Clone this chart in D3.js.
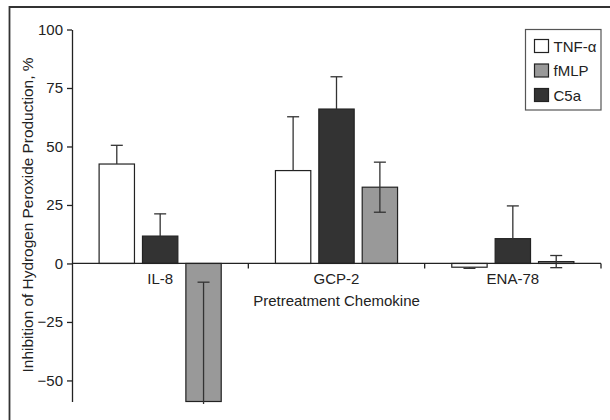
<!DOCTYPE html>
<html>
<head>
<meta charset="utf-8">
<script src="https://cdn.jsdelivr.net/npm/d3@7/dist/d3.min.js"></script>
<style>
  body { margin: 0; background: #fff; }
  svg { display: block; font-family: "Liberation Sans", Arial, sans-serif; }
</style>
</head>
<body>
<svg width="610" height="420"></svg>
<script>
// dati
var chemokines = ["IL-8", "GCP-2", "ENA-78"];
var seriesOrder = ["TNF-α", "C5a", "fMLP"];     // ordine delle barre
var legendOrder = ["TNF-α", "fMLP", "C5a"];     // ordine della legenda
var tnfValues = [42.5, 39.7, -1.6];
var tnfErrors = [8, 23, 0.5];
var c5aValues = [11.7, 66, 10.6];
var c5aErrors = [9.5, 13.8, 14];
var fmlpValues = [-59, 32.6, 0.8];
var fmlpErrors = [51, 10.7, 2.6];
var yTicks = [-50, -25, 0, 25, 50, 75, 100];

var colors = { "TNF-α": "#ffffff", "fMLP": "#999999", "C5a": "#333333" };
var twoSided = { "TNF-α": false, "fMLP": true, "C5a": false };

var data = [];
chemokines.forEach(function (c, i) {
    data.push({ group: c, serie: "TNF-α", value: tnfValues[i], err: tnfErrors[i] });
    data.push({ group: c, serie: "C5a", value: c5aValues[i], err: c5aErrors[i] });
    data.push({ group: c, serie: "fMLP", value: fmlpValues[i], err: fmlpErrors[i] });
});

var svg = d3.select("svg");

// cornice esterna
svg.append("path")
    .attr("d", "M9.5,420 V7 H610")
    .attr("fill", "none")
    .attr("stroke", "#333")
    .attr("stroke-width", 1.8);

var x0 = d3.scaleBand().domain(chemokines).range([72, 601]).padding(0);
var x1 = d3.scaleBand().domain(seriesOrder).range([0, x0.bandwidth()])
    .paddingInner(0.185).paddingOuter(0.625);
var y = d3.scaleLinear().domain([-59, 100]).range([401.5, 29.5]);

// clip per la barra d'errore che esce dal grafico (solo in verticale)
svg.append("clipPath").attr("id", "clip")
    .append("rect").attr("x", -1000).attr("y", 0).attr("width", 3000).attr("height", 404);

// asse y
var yAxis = svg.append("g")
    .attr("transform", "translate(72,0)")
    .call(d3.axisLeft(y).tickValues(yTicks).tickSize(5).tickPadding(4).tickSizeOuter(0));
yAxis.select(".domain").attr("stroke", "#222").attr("stroke-width", 1.3);
yAxis.selectAll(".tick line").attr("stroke", "#222").attr("stroke-width", 1.3);
yAxis.selectAll(".tick text").attr("font-size", 15).attr("fill", "#222")
    .attr("font-family", "Liberation Sans, Arial, sans-serif");

// barre
var bars = svg.append("g").selectAll("g")
    .data(data)
    .enter()
    .append("g")
    .attr("transform", function (d) { return "translate(" + (x0(d.group) + x1(d.serie)) + ",0)"; });

bars.append("rect")
    .attr("x", 0)
    .attr("y", function (d) { return y(Math.max(0, d.value)); })
    .attr("width", x1.bandwidth())
    .attr("height", function (d) { return Math.abs(y(d.value) - y(0)); })
    .attr("fill", function (d) { return colors[d.serie]; })
    .attr("stroke", "#222")
    .attr("stroke-width", 1.2);

// barre d'errore
var errs = bars.append("g").attr("clip-path", "url(#clip)");
var cx = x1.bandwidth() / 2;
errs.append("line")
    .attr("x1", cx).attr("x2", cx)
    .attr("y1", function (d) {
        if (twoSided[d.serie]) return y(d.value + d.err);
        return y(d.value);
    })
    .attr("y2", function (d) {
        if (twoSided[d.serie]) return y(d.value - d.err);
        return d.value >= 0 ? y(d.value + d.err) : y(d.value - d.err);
    })
    .attr("stroke", "#333")
    .attr("stroke-width", 1.3);

errs.each(function (d) {
    var ends = [];
    if (twoSided[d.serie]) {
        ends = [d.value + d.err, d.value - d.err];
    } else {
        ends = [d.value >= 0 ? d.value + d.err : d.value - d.err];
    }
    d3.select(this).selectAll(".cap")
        .data(ends)
        .enter()
        .append("line")
        .attr("class", "cap")
        .attr("x1", cx - 6).attr("x2", cx + 6)
        .attr("y1", function (v) { return y(v); })
        .attr("y2", function (v) { return y(v); })
        .attr("stroke", "#333")
        .attr("stroke-width", 1.3);
});

// asse x sullo zero
var xAxis = svg.append("g").attr("transform", "translate(0," + y(0) + ")");
xAxis.append("line")
    .attr("x1", 72).attr("x2", 601)
    .attr("stroke", "#222").attr("stroke-width", 1.3);
xAxis.selectAll(".tk")
    .data(chemokines.slice(1).concat(["end"]))
    .enter()
    .append("line")
    .attr("x1", function (d) { return d === "end" ? 601 : x0(d); })
    .attr("x2", function (d) { return d === "end" ? 601 : x0(d); })
    .attr("y1", 0).attr("y2", 5)
    .attr("stroke", "#222").attr("stroke-width", 1.3);
xAxis.selectAll(".lbl")
    .data(chemokines)
    .enter()
    .append("text")
    .attr("x", function (d) { return x0(d) + x0.bandwidth() / 2; })
    .attr("y", 20.5)
    .attr("text-anchor", "middle")
    .attr("font-size", 15)
    .attr("fill", "#222")
    .text(function (d) { return d; });

svg.append("text")
    .attr("x", (72 + 601) / 2)
    .attr("y", 306)
    .attr("text-anchor", "middle")
    .attr("font-size", 15)
    .attr("fill", "#222")
    .text("Pretreatment Chemokine");

svg.append("text")
    .attr("transform", "translate(33,215) rotate(-90)")
    .attr("text-anchor", "middle")
    .attr("font-size", 15.4)
    .attr("fill", "#222")
    .text("Inhibition of Hydrogen Peroxide Production, %");

// legenda
var legend = svg.append("g");
legend.append("rect")
    .attr("x", 525.5).attr("y", 29.5)
    .attr("width", 75.5).attr("height", 80.5)
    .attr("fill", "#fff")
    .attr("stroke", "#555").attr("stroke-width", 1.2);
var items = legend.selectAll(".item")
    .data(legendOrder)
    .enter()
    .append("g")
    .attr("transform", function (d, i) { return "translate(534.5," + (39.5 + i * 24.5) + ")"; });
items.append("rect")
    .attr("width", 14).attr("height", 13)
    .attr("fill", function (d) { return colors[d]; })
    .attr("stroke", "#222").attr("stroke-width", 1.2);
items.append("text")
    .attr("x", 19).attr("y", 12)
    .attr("font-size", 15)
    .attr("fill", "#222")
    .text(function (d) { return d; });
</script>
</body>
</html>
